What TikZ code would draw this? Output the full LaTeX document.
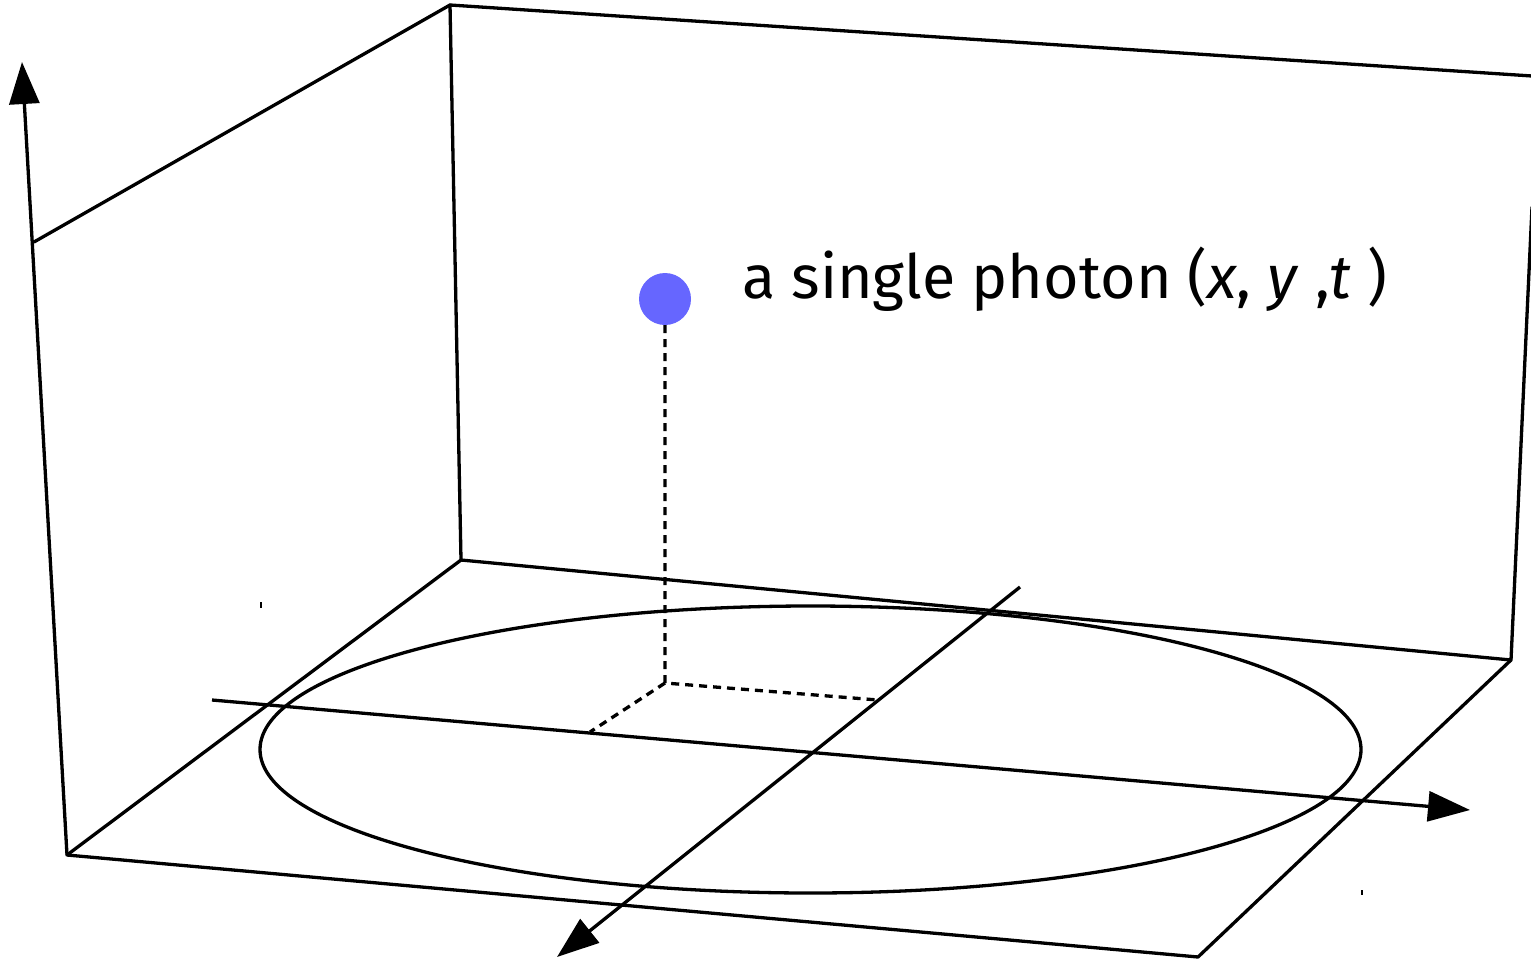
\documentclass[tikz,border=0pt]{standalone}
\usepackage{fontspec}
\setmainfont{Fira Sans}
\usetikzlibrary{arrows.meta,shapes.geometric}
\definecolor{photon}{RGB}{102,102,255}
\tikzset{
  edge/.style={line width=3.3pt, line cap=round, line join=round},
  axis/.style={line width=3.3pt, -{Triangle[length=42pt,width=30pt]}},
  proj/.style={line width=3.3pt, dash pattern=on 8pt off 6pt},
}
\begin{document}
\begin{tikzpicture}[x=1pt,y=-1pt]
\useasboundingbox (0,0) rectangle (1531,961);
% corners
\coordinate (O) at (67,855);
\coordinate (Vtop) at (22,62);
\coordinate (Wl) at (34,242);
\coordinate (Bt) at (450,5);
\coordinate (Bb) at (461,560);
\coordinate (Rb) at (1511,660);
\coordinate (Rt) at (1532,207);
\coordinate (Tr) at (1532,76);
\coordinate (Fr) at (1198,957);
% walls and floor
\draw[edge] (Wl) -- (Bt) -- (Tr);
\draw[edge] (Bt) -- (Bb) -- (Rb) -- (Rt);
\draw[edge] (O) -- (Bb);
\draw[edge] (O) -- (Fr) -- (Rb);
\draw[axis] (O) -- (Vtop);
% ellipse
\node[draw, line width=3.3pt, ellipse, minimum width=1101pt, minimum height=287pt, inner sep=0pt] (ell) at (810.5,749.5) {};
% axes in the plane
\coordinate (Xs) at (212,700);
\coordinate (Xe) at (1470,810);
\coordinate (Ys) at (1020,587);
\coordinate (Ye) at (557,957);
\draw[axis] (Xs) -- (Xe);
\draw[axis] (Ys) -- (Ye);
% photon
\node[circle, fill=photon, minimum size=52pt, inner sep=0pt] (ph) at (665,299) {};
\coordinate (P0) at (665,683);
\coordinate (Px) at (878,700);
\coordinate (Py) at (590,732);
\draw[proj] (ph.south) -- (P0) -- (Px);
\draw[proj] (P0) -- (Py);
\node[anchor=base west, inner sep=0pt, font=\fontsize{61}{63}\selectfont] (lbl) at (742,298) {a single photon (\textit{x}, \textit{y} ,\textit{t} )};
% stray marks
\draw[line width=1.5pt] (261,602) -- (261,608);
\draw[line width=1.5pt] (1362,890) -- (1362,895);
\end{tikzpicture}
\end{document}
